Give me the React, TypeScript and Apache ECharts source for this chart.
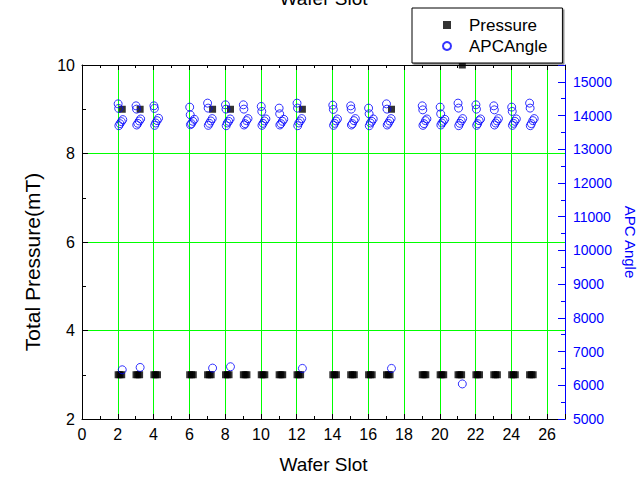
import { useEffect, useRef } from "react";
import * as echarts from "echarts";

// Wafer slots that were processed
const slots = [2, 3, 4, 6, 7, 8, 9, 10, 11, 12, 14, 15, 16, 17, 19, 20, 21, 22, 23, 24, 25];

// Position of each logged step inside a slot (fraction of one slot)
const pressureStepOffsets = [0.02, 0.12, 0.22];
const apcStepOffsets = [0.02, 0.05, 0.28, 0.2, 0.12, 0.06];

// Chamber pressure for the three main-etch steps, mT
const pressureStep1 = [3.0, 3.0, 3.0, 3.0, 3.0, 3.0, 3.0, 3.0, 3.0, 3.0, 3.0, 3.0, 3.0, 3.0, 3.0, 3.0, 3.0, 3.0, 3.0, 3.0, 3.0];
const pressureStep2 = [3.0, 3.0, 3.0, 3.0, 3.0, 3.0, 3.0, 3.0, 3.0, 3.0, 3.0, 3.0, 3.0, 3.0, 3.0, 3.0, 3.0, 3.0, 3.0, 3.0, 3.0];
const pressureStep3 = [3.0, 3.0, 3.0, 3.0, 3.0, 3.0, 3.0, 3.0, 3.0, 3.0, 3.0, 3.0, 3.0, 3.0, 3.0, 3.0, 3.0, 3.0, 3.0, 3.0, 3.0];

// Strike step, logged only on some wafers
const strikeSlot = [2.25, 3.25, 7.3, 8.3, 12.32, 17.3, 21.26];
const strikePressure = [9.0, 9.0, 9.0, 9.0, 9.0, 9.0, 10.0];
const strikeApc = [6460, 6530, 6510, 6550, 6500, 6500, 6040];

// APC valve angle for the six main-etch readings of each slot
const apcStep1 = [14348, 14289, 14289, 14251, 14369, 14319, 14319, 14271, 14221, 14369, 14310, 14289, 14221, 14348, 14289, 14251, 14369, 14319, 14289, 14251, 14369];
const apcStep2 = [14212, 14191, 14212, 14023, 14221, 14191, 14191, 14123, 14052, 14221, 14182, 14191, 14052, 14191, 14170, 14052, 14221, 14191, 14170, 14123, 14221];
const apcStep3 = [13880, 13900, 13920, 13890, 13910, 13900, 13910, 13900, 13890, 13910, 13900, 13910, 13900, 13910, 13900, 13890, 13910, 13900, 13910, 13900, 13910];
const apcStep4 = [13820, 13840, 13850, 13830, 13840, 13830, 13850, 13840, 13830, 13840, 13840, 13850, 13830, 13840, 13850, 13830, 13840, 13850, 13840, 13830, 13850];
const apcStep5 = [13760, 13770, 13780, 13760, 13770, 13780, 13760, 13770, 13760, 13780, 13770, 13760, 13780, 13770, 13760, 13780, 13770, 13760, 13780, 13770, 13760];
const apcStep6 = [13700, 13720, 13710, 13730, 13710, 13700, 13720, 13710, 13720, 13700, 13710, 13720, 13700, 13720, 13710, 13720, 13700, 13710, 13720, 13710, 13700];

const FONT = '"Liberation Sans", Arial, sans-serif';
const GRID_GREEN = "#00ff00";
const APC_BLUE = "#0000ff";

function buildPressure(): number[][] {
  const steps = [pressureStep1, pressureStep2, pressureStep3];
  const pts: number[][] = [];
  steps.forEach((vals, k) => {
    slots.forEach((s, i) => pts.push([s + pressureStepOffsets[k], vals[i]]));
  });
  strikeSlot.forEach((x, i) => pts.push([x, strikePressure[i]]));
  return pts;
}

function buildApc(): number[][] {
  const steps = [apcStep1, apcStep2, apcStep3, apcStep4, apcStep5, apcStep6];
  const pts: number[][] = [];
  steps.forEach((vals, k) => {
    slots.forEach((s, i) => pts.push([s + apcStepOffsets[k], vals[i]]));
  });
  strikeSlot.forEach((x, i) => pts.push([x, strikeApc[i]]));
  return pts;
}

export default function App() {
  const ref = useRef<HTMLDivElement>(null);

  useEffect(() => {
    if (!ref.current) return;
    const chart = echarts.init(ref.current, null, { renderer: "svg" });

    const xCommon = {
      type: "value" as const,
      min: 0,
      max: 27,
      interval: 2,
      axisLine: { onZero: false, lineStyle: { color: "#000", width: 1 } },
      axisTick: { show: true, inside: true, length: 5, lineStyle: { color: "#000" } },
      minorTick: { show: true, splitNumber: 2, length: 3, lineStyle: { color: "#000" } },
    };

    chart.setOption({
      animation: false,
      textStyle: { fontFamily: FONT },
      grid: { left: 82, top: 65, width: 483, height: 354, outerBoundsMode: "none", containLabel: false },
      legend: {
        orient: "vertical",
        left: 412,
        top: 8,
        padding: [7, 15, 7, 30],
        itemWidth: 8,
        itemHeight: 8,
        itemGap: 1,
        backgroundColor: "#fff",
        borderColor: "#000",
        borderWidth: 1,
        borderRadius: 0,
        shadowColor: "rgba(0,0,0,0.45)",
        shadowOffsetX: 1.5,
        shadowOffsetY: 1.5,
        shadowBlur: 0,
        textStyle: { fontSize: 17, color: "#000", lineHeight: 20, fontFamily: FONT, padding: [0, 0, 0, 13] },
        data: ["Pressure", "APCAngle"],
      },
      xAxis: [
        {
          ...xCommon,
          position: "bottom",
          name: "Wafer Slot",
          nameLocation: "middle",
          nameGap: 36,
          nameTextStyle: { fontSize: 19, color: "#000", fontFamily: FONT },
          axisLabel: { color: "#000", fontSize: 16, margin: 7, showMaxLabel: false, fontFamily: FONT },
          splitLine: { show: true, lineStyle: { color: GRID_GREEN, width: 1 } },
        },
        {
          ...xCommon,
          position: "top",
          name: "Wafer Slot",
          nameLocation: "middle",
          nameGap: 57,
          nameTextStyle: { fontSize: 19, color: "#000", fontFamily: FONT },
          axisLabel: { show: false },
          splitLine: { show: false },
        },
      ],
      yAxis: [
        {
          type: "value",
          position: "left",
          min: 2,
          max: 10,
          interval: 2,
          name: "Total Pressure(mT)",
          nameLocation: "middle",
          nameRotate: 90,
          nameGap: 39,
          nameTextStyle: { fontSize: 21, color: "#000", fontFamily: FONT, padding: [0, 40, 0, 0] },
          axisLine: { show: true, onZero: false, lineStyle: { color: "#000", width: 1 } },
          axisTick: { show: true, inside: true, length: 6, lineStyle: { color: "#000" } },
          minorTick: { show: true, splitNumber: 2, length: 4, lineStyle: { color: "#000" } },
          axisLabel: { color: "#000", fontSize: 16, margin: 7, fontFamily: FONT },
          splitLine: { show: true, lineStyle: { color: GRID_GREEN, width: 1 } },
        },
        {
          type: "value",
          position: "right",
          min: 5000,
          max: 15500,
          interval: 1000,
          name: "APC Angle",
          nameLocation: "middle",
          nameRotate: -90,
          nameGap: 55,
          nameTextStyle: { fontSize: 15, color: APC_BLUE, fontFamily: FONT },
          axisLine: { show: true, onZero: false, lineStyle: { color: APC_BLUE, width: 1 } },
          axisTick: { show: true, inside: true, length: 7, lineStyle: { color: APC_BLUE } },
          minorTick: { show: true, splitNumber: 2, length: 4, lineStyle: { color: APC_BLUE } },
          axisLabel: {
            color: APC_BLUE,
            fontSize: 14,
            margin: 8,
            showMaxLabel: false,
            fontFamily: FONT,
            formatter: (v: number) => String(v),
          },
          splitLine: { show: false },
        },
      ],
      series: [
        {
          name: "Pressure",
          type: "scatter",
          xAxisIndex: 0,
          yAxisIndex: 0,
          symbol: "rect",
          symbolSize: 7,
          itemStyle: { color: "#000" },
          data: buildPressure(),
          z: 2,
        },
        {
          name: "APCAngle",
          type: "scatter",
          xAxisIndex: 0,
          yAxisIndex: 1,
          symbol: "circle",
          symbolSize: 8,
          itemStyle: { color: "rgba(0,0,0,0)", borderColor: APC_BLUE, borderWidth: 1 },
          data: buildApc(),
          z: 3,
        },
      ],
    });

    return () => chart.dispose();
  }, []);

  return (
    <div
      ref={ref}
      style={{ position: "fixed", left: 0, top: 0, width: 639, height: 477, background: "#fff" }}
    />
  );
}
